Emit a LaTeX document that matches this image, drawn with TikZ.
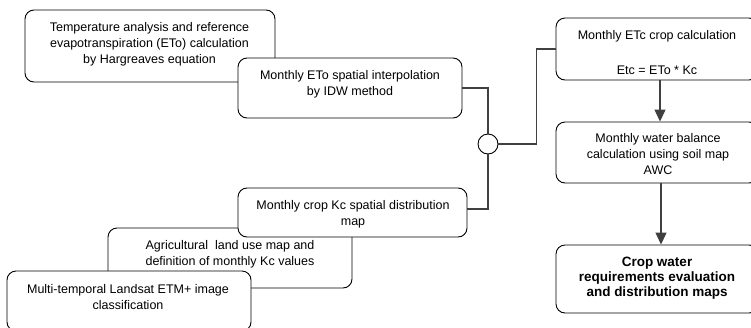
\documentclass[tikz,border=0pt]{standalone}
\usepackage{fontspec}
\setmainfont{Liberation Sans}
\usetikzlibrary{arrows.meta}
\tikzset{
  box/.style={draw=black, line width=0.9pt, fill=white, rounded corners=9pt, inner sep=0pt},
  txt/.style={align=center, inner sep=0pt, font=\fontsize{12.5}{16}\selectfont},
  btxt/.style={align=center, inner sep=0pt, font=\fontsize{13.5}{15}\selectfont\bfseries},
  conn/.style={draw=black!75, line width=1.2pt},
  arr/.style={conn, -{Triangle[width=11pt,length=12pt]}},
  junction/.style={draw=black, line width=0.9pt, fill=white, circle, minimum size=20pt, inner sep=0pt}
}
\begin{document}
\begin{tikzpicture}[x=1pt,y=-1pt]
\useasboundingbox (0,0) rectangle (751,327);
\clip (0,0) rectangle (751,327);
% left stack (top)
\node[box, minimum width=250pt, minimum height=72pt] (A) at (150,46) {};
\node[txt] (At) at (149.5,44)
  {Temperature analysis and reference\\evapotranspiration (ETo) calculation\\by Hargreaves equation};
\node[box, minimum width=224pt, minimum height=60pt] (B) at (350,88) {};
\node[txt] (Bt) at (350,84.5)
  {Monthly ETo spatial interpolation\\by IDW method};
% left stack (bottom)
\node[box, minimum width=244pt, minimum height=60pt] (D) at (230,258) {};
\node[txt] (Dt) at (230,254.5)
  {Agricultural\ \ land use map and\\definition of monthly Kc values};
\node[box, minimum width=229pt, minimum height=49pt] (C) at (352.5,212.5) {};
\node[txt] (Ct) at (353,214.4)
  {Monthly crop Kc spatial distribution\\map};
\node[box, minimum width=244pt, minimum height=60pt] (H) at (129,301) {};
\node[txt] (Ht) at (128,297.5)
  {Multi-temporal Landsat ETM+ image\\classification};
% right column
\node[box, minimum width=202pt, minimum height=62pt] (E) at (657,49) {};
\node[txt] (Et) at (657,52.5)
  {Monthly ETc crop calculation\\[19pt]Etc = ETo * Kc};
\node[box, minimum width=202pt, minimum height=61pt] (F) at (657,152.5) {};
\node[txt] (Ft) at (658,154)
  {Monthly water balance\\calculation using soil map\\AWC};
\node[box, minimum width=202pt, minimum height=68pt] (G) at (657,279) {};
\node[btxt] (Gt) at (657,278)
  {Crop water\\requirements evaluation\\and distribution maps};
% junction
\node[junction] (J) at (488,144) {};
% connectors
\draw[conn] (B.east) -| (J.north);
\draw[conn] (J.south) |- ([yshift=3.5pt]C.east);
\draw[conn] (J.east) -- ++(38,0) |- (E.west);
\draw[arr] ([xshift=3pt]E.south) -- ([xshift=3pt]F.north);
\draw[arr] ([xshift=4pt]F.south) -- ([xshift=4pt]G.north);
\end{tikzpicture}
\end{document}
